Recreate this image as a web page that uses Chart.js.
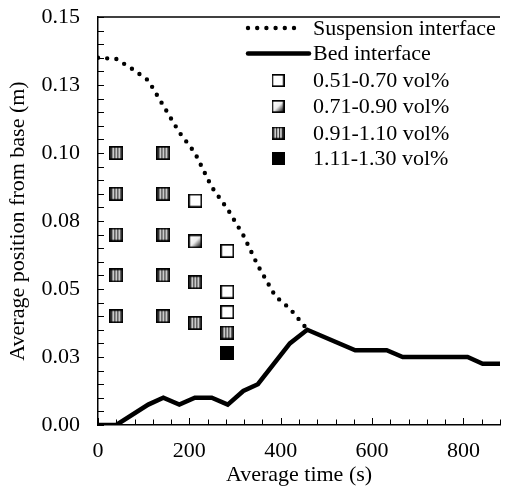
<!DOCTYPE html>
<html><head><meta charset="utf-8">
<script src="https://cdn.jsdelivr.net/npm/chart.js@4/dist/chart.umd.min.js"></script>
<style>html,body{margin:0;padding:0;background:#fff}#wrap{width:505px;height:489px;position:relative}</style>
</head><body><div id="wrap"><canvas id="c"></canvas></div>
<script>
// ---- data ----
const suspTime = [0, 40, 75, 110, 143, 178, 212, 249, 284, 318, 350, 388, 420, 458];
const suspPos  = [0.135, 0.1346, 0.1309, 0.1267, 0.1174, 0.1076, 0.1001, 0.0875, 0.0793, 0.0698, 0.0586, 0.0474, 0.0428, 0.0352];
const bedTime = [0, 40, 110, 143, 178, 212, 249, 284, 318, 350, 420, 458, 563, 632, 667, 809, 842, 880];
const bedPos  = [0, 0, 0.0075, 0.01, 0.0075, 0.01, 0.01, 0.0075, 0.0125, 0.015, 0.03, 0.035, 0.0275, 0.0275, 0.025, 0.025, 0.0225, 0.0225];
const c051Time = [213, 283, 283, 283];
const c051Pos  = [0.0825, 0.064, 0.049, 0.0415];
const c071Time = [213];
const c071Pos  = [0.0675];
const c091Time = [40, 40, 40, 40, 40, 143, 143, 143, 143, 143, 213, 213, 283];
const c091Pos  = [0.10, 0.085, 0.07, 0.055, 0.04, 0.10, 0.085, 0.07, 0.055, 0.04, 0.0525, 0.0375, 0.034];
const c111Time = [283];
const c111Pos  = [0.0265];
const seriesLabels = ['Suspension interface', 'Bed interface', '0.51-0.70 vol%', '0.71-0.90 vol%', '0.91-1.10 vol%', '1.11-1.30 vol%'];
const yTickValues = [0, 0.025, 0.05, 0.075, 0.10, 0.125, 0.15];
const yTickLabels = ['0.00', '0.03', '0.05', '0.08', '0.10', '0.13', '0.15'];
const xTickValues = [0, 200, 400, 600, 800];
const xTickLabels = ['0', '200', '400', '600', '800'];
const xTitle = 'Average time (s)';
const yTitle = 'Average position from base (m)';

const FONT = "'Liberation Serif', 'Times New Roman', serif";
const FS = 22;

// ---- marker images ----
function mk(s, draw) {
  const c = document.createElement('canvas'); c.width = s; c.height = s;
  const g = c.getContext('2d'); draw(g, s); return c;
}
function border(g, s) { g.strokeStyle = '#000'; g.lineWidth = 1.7; g.strokeRect(0.85, 0.85, s - 1.7, s - 1.7); }
const S = 14;
const mOpen = mk(S, (g, s) => { g.fillStyle = '#fff'; g.fillRect(0, 0, s, s); border(g, s); });
const mHalf = mk(S, (g, s) => {
  const gr = g.createLinearGradient(0, 0, s, s);
  gr.addColorStop(0, '#000'); gr.addColorStop(0.15, '#fff'); gr.addColorStop(0.5, '#eee'); gr.addColorStop(0.8, '#444'); gr.addColorStop(1, '#000');
  g.fillStyle = gr; g.fillRect(0, 0, s, s); border(g, s);
});
const mStripe = mk(S, (g, s) => {
  g.fillStyle = '#b8b8b8'; g.fillRect(0, 0, s, s);
  g.fillStyle = '#f0f0f0';
  [3.2, 6.2, 9.2].forEach(x => g.fillRect(x, 0, 1.3, s));
  g.fillStyle = '#111';
  [2.2, 5.2, 8.2, 11.2].forEach(x => g.fillRect(x, 0, 1, s));
  border(g, s);
});
const mBlack = mk(S, (g, s) => { g.fillStyle = '#000'; g.fillRect(0, 0, s, s); });

const pts = (xs, ys) => xs.map((x, i) => ({x, y: ys[i]}));

// ---- custom plugin: inward ticks, top frame line, inset legend ----
const frame = {
  id: 'frame',
  afterDraw(chart) {
    const {ctx, chartArea: a, scales: {x, y}} = chart;
    ctx.save();
    ctx.strokeStyle = '#000'; ctx.lineWidth = 1.5;
    ctx.beginPath(); ctx.moveTo(a.left, a.top); ctx.lineTo(a.right, a.top); ctx.stroke();
    ctx.lineWidth = 1;
    for (let v = 0; v <= 0.1501; v += 0.005) {
      const py = Math.round(y.getPixelForValue(v)) + 0.5;
      ctx.beginPath(); ctx.moveTo(a.left, py); ctx.lineTo(a.left + 6, py); ctx.stroke();
    }
    for (let t = 0; t <= 880.1; t += 40) {
      const px = Math.round(x.getPixelForValue(t)) + 0.5;
      const len = (t % 200 === 0) ? 7 : 5.5;
      ctx.beginPath(); ctx.moveTo(px, a.bottom); ctx.lineTo(px, a.bottom - len); ctx.stroke();
    }
    // legend
    const rowY = [28, 53.5, 80.5, 106.5, 133, 158.5];
    const x0 = 248, x1 = 302, tx = 313;
    ctx.font = FS + 'px ' + FONT; ctx.fillStyle = '#000'; ctx.textBaseline = 'middle'; ctx.textAlign = 'left';
    chart.data.datasets.forEach((ds, i) => {
      const yy = rowY[i];
      if (i === 0) {
        ctx.save(); ctx.lineWidth = 4.4; ctx.lineCap = 'round'; ctx.setLineDash([0, 9.2]);
        ctx.beginPath(); ctx.moveTo(x0, yy); ctx.lineTo(x1, yy); ctx.stroke(); ctx.restore();
      } else if (i === 1) {
        ctx.save(); ctx.lineWidth = 4.5; ctx.lineCap = 'round';
        ctx.beginPath(); ctx.moveTo(x0, yy); ctx.lineTo(x1 + 7, yy); ctx.stroke(); ctx.restore();
      } else {
        const img = ds.pointStyle; const s = 13;
        ctx.drawImage(img, 278 - s / 2, yy - s / 2, s, s);
      }
      ctx.fillText(ds.label, tx, yy + 1);
    });
    ctx.restore();
  }
};

new Chart(document.getElementById('c'), {
  type: 'scatter',
  data: {
    datasets: [
      { type: 'line', label: seriesLabels[0], data: pts(suspTime, suspPos), borderColor: '#000', borderWidth: 4.4,
        borderDash: [0, 9.2], borderCapStyle: 'round', pointRadius: 0, fill: false, tension: 0, order: 2 },
      { type: 'line', label: seriesLabels[1], data: pts(bedTime, bedPos), borderColor: '#000', borderWidth: 4.5,
        borderJoinStyle: 'miter', pointRadius: 0, fill: false, tension: 0, order: 2 },
      { label: seriesLabels[2], data: pts(c051Time, c051Pos), pointStyle: mOpen, pointRadius: 7, order: 1 },
      { label: seriesLabels[3], data: pts(c071Time, c071Pos), pointStyle: mHalf, pointRadius: 7, order: 1 },
      { label: seriesLabels[4], data: pts(c091Time, c091Pos), pointStyle: mStripe, pointRadius: 7, order: 1 },
      { label: seriesLabels[5], data: pts(c111Time, c111Pos), pointStyle: mBlack, pointRadius: 7, order: 1 }
    ]
  },
  options: {
    responsive: true, maintainAspectRatio: false, animation: false,
    layout: { padding: { top: 17, right: 5, left: 0, bottom: 0 }, autoPadding: false },
    plugins: { legend: { display: false }, tooltip: { enabled: false } },
    events: [],
    scales: {
      x: {
        type: 'linear', min: 0, max: 880,
        afterFit: s => { s.height = 64; s.paddingLeft = 0; s.paddingRight = 0; },
        afterBuildTicks: s => { s.ticks = xTickValues.map(v => ({value: v})); },
        ticks: { padding: 13, color: '#000', font: { family: FONT, size: FS }, maxRotation: 0,
                 callback: (v, i) => xTickLabels[i] },
        grid: { display: false, drawTicks: false },
        border: { display: true, color: '#000', width: 1.5 },
        title: { display: true, text: xTitle, color: '#000', font: { family: FONT, size: FS }, padding: { top: 0, bottom: 1 } }
      },
      y: {
        type: 'linear', min: 0, max: 0.15,
        afterFit: s => { s.width = 98; s.paddingTop = 0; s.paddingBottom = 0; },
        afterBuildTicks: s => { s.ticks = yTickValues.map(v => ({value: v})); },
        ticks: { padding: 18, color: '#000', font: { family: FONT, size: FS },
                 callback: (v, i) => yTickLabels[i] },
        grid: { display: false, drawTicks: false },
        border: { display: true, color: '#000', width: 1.5 },
        title: { display: true, text: yTitle, color: '#000', font: { family: FONT, size: FS }, padding: { top: 5, bottom: 0 } }
      }
    }
  },
  plugins: [frame]
});
</script>
</body></html>
